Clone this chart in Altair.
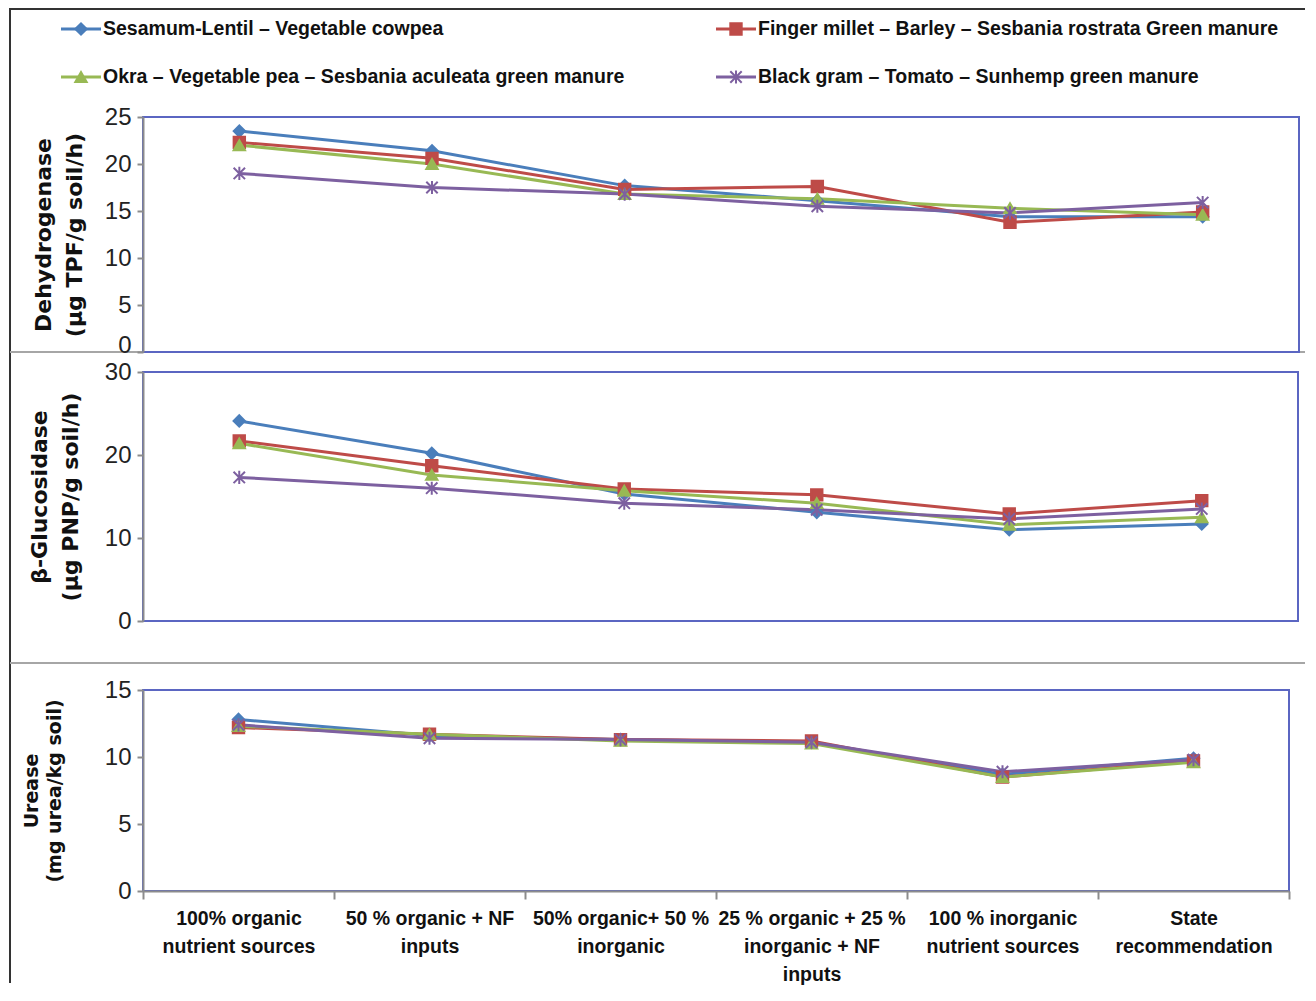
import altair as alt
import pandas as pd

categories = [
    "100% organic\nnutrient sources",
    "50 % organic + NF\ninputs",
    "50% organic+ 50 %\ninorganic",
    "25 % organic + 25 %\ninorganic + NF\ninputs",
    "100 % inorganic\nnutrient sources",
    "State\nrecommendation",
]
series = [
    "Sesamum-Lentil – Vegetable cowpea",
    "Finger millet – Barley – Sesbania rostrata Green manure",
    "Okra – Vegetable pea – Sesbania aculeata green manure",
    "Black gram – Tomato – Sunhemp green manure",
]
colors = ["#4A7EBB", "#BE4B48", "#98B954", "#7D60A0"]
shapes = ["diamond", "square", "triangle-up", "M-1,-1L1,1M-1,1L1,-1M0,-1.15L0,1.15"]

# Dehydrogenase (µg TPF/g soil/h)
dh_sesamum = [23.5, 21.4, 17.7, 16.1, 14.4, 14.4]
dh_finger = [22.3, 20.6, 17.3, 17.6, 13.8, 14.9]
dh_okra = [22.0, 20.0, 16.8, 16.3, 15.3, 14.6]
dh_blackgram = [19.0, 17.5, 16.8, 15.5, 14.8, 15.9]

# beta-Glucosidase (µg PNP/g soil/h)
bg_sesamum = [24.1, 20.2, 15.3, 13.1, 11.0, 11.7]
bg_finger = [21.7, 18.7, 15.9, 15.2, 12.9, 14.5]
bg_okra = [21.4, 17.6, 15.7, 14.2, 11.6, 12.5]
bg_blackgram = [17.3, 16.0, 14.2, 13.4, 12.3, 13.5]

# Urease (mg urea/kg soil)
ur_sesamum = [12.8, 11.6, 11.3, 11.1, 8.7, 9.9]
ur_finger = [12.2, 11.7, 11.3, 11.2, 8.5, 9.7]
ur_okra = [12.3, 11.7, 11.2, 11.0, 8.5, 9.6]
ur_blackgram = [12.4, 11.4, 11.3, 11.1, 8.9, 9.8]

NARROW = "Liberation Sans, Arial, sans-serif"
WIDE = "DejaVu Sans, Verdana, sans-serif"
BLUE_BORDER = "#5B66C2"
GRAY = "#8C8C8C"


def long_df(lists):
    rows = []
    for s, vals in zip(series, lists):
        for ci, (c, v) in enumerate(zip(categories, vals)):
            rows.append({"series": s, "cat": c, "ci": ci, "val": v})
    return pd.DataFrame(rows)


color_scale = alt.Scale(domain=series, range=colors)
shape_scale = alt.Scale(domain=series, range=shapes)


def panel(lists, dmax, step, title, h, w, tfs, tweight, tlh, tpad, show_x, zero_base="middle"):
    df = long_df(lists)
    if show_x:
        xaxis = alt.Axis(
            title=None, labelAngle=0, labelExpr="split(datum.label, '\\n')",
            labelFont=NARROW, labelFontSize=19.5, labelFontWeight="bold",
            labelLineHeight=28, labelPadding=10, labelColor="#111",
            labelLimit=300, labelOverlap=False, tickBand="extent",
            tickSize=8, tickWidth=2, tickColor=GRAY, domainColor=GRAY,
            domainWidth=2, grid=False,
        )
    else:
        xaxis = None
    x = alt.X("cat:N", sort=categories,
              scale=alt.Scale(type="band", paddingInner=0, paddingOuter=0),
              axis=xaxis)
    y = alt.Y("val:Q", scale=alt.Scale(domain=[0, dmax], nice=False, zero=True),
              axis=alt.Axis(
                  values=list(range(0, dmax + 1, step)), title=title,
                  titleFont=WIDE, titleFontSize=tfs, titleFontWeight=tweight,
                  titleLineHeight=tlh, titlePadding=tpad, titleColor="#111",
                  labelFont=NARROW, labelFontSize=24, labelColor="#222",
                  labelBaseline={"condition": {"test": "datum.value === 0", "value": zero_base},
                                 "value": "middle"},
                  labelPadding=6, tickSize=6, tickWidth=2, tickColor=GRAY,
                  domainColor=GRAY, domainWidth=2, grid=False,
              ))
    base = alt.Chart(df)
    lines = base.mark_line(strokeWidth=3).encode(
        x=x, y=y,
        color=alt.Color("series:N", scale=color_scale, legend=None),
        order=alt.Order("ci:Q"),
    )
    pts = base.mark_point(filled=True, size=130, opacity=1, strokeWidth=2).encode(
        x=x, y=y,
        shape=alt.Shape("series:N", scale=shape_scale, legend=None),
        fill=alt.Fill("series:N", scale=color_scale, legend=None),
        stroke=alt.Stroke("series:N", scale=color_scale, legend=None),
    )
    return alt.layer(lines, pts).properties(
        width=w, height=h,
        view=alt.ViewBackground(stroke=BLUE_BORDER, strokeWidth=2),
    )


# ---- legend / frame chart ----
leg_df = pd.DataFrame({
    "series": series,
    "col": [i % 2 for i in range(len(series))],
    "row": [i // 2 for i in range(len(series))],
})
legx = alt.X("col:Q", scale=alt.Scale(domain=[0, 1], range=[-62, 593]), axis=None)
legy = alt.Y("row:Q", scale=alt.Scale(domain=[0, 1], range=[21, 69]), axis=None)
leg_base = alt.Chart(leg_df)
leg_tick = leg_base.mark_tick(orient="horizontal", size=40, thickness=3, opacity=1).encode(
    x=legx, y=legy, color=alt.Color("series:N", scale=color_scale, legend=None))
leg_pts = leg_base.mark_point(filled=True, size=130, opacity=1, strokeWidth=2).encode(
    x=legx, y=legy,
    shape=alt.Shape("series:N", scale=shape_scale, legend=None),
    fill=alt.Fill("series:N", scale=color_scale, legend=None),
    stroke=alt.Stroke("series:N", scale=color_scale, legend=None),
)
leg_text = leg_base.mark_text(align="left", baseline="middle", dx=22, font=NARROW,
                              fontSize=19.5, fontWeight="bold", color="#111").encode(
    x=legx, y=legy, text="series:N")

deco = alt.Chart(pd.DataFrame({"k": [0]}))
top_border = deco.mark_rule(color="#333333", strokeWidth=2).encode(
    x=alt.value(-134), x2=alt.value(1162), y=alt.value(1))
left_border = deco.mark_rule(color="#333333", strokeWidth=2).encode(
    x=alt.value(-133), y=alt.value(1), y2=alt.value(975))
sep1 = deco.mark_rule(color="#A6A6A6", strokeWidth=2).encode(
    x=alt.value(-133), x2=alt.value(1162), y=alt.value(344))
sep2 = deco.mark_rule(color="#A6A6A6", strokeWidth=2).encode(
    x=alt.value(-133), x2=alt.value(1162), y=alt.value(655))

legend_chart = alt.layer(top_border, left_border, sep1, sep2, leg_tick, leg_pts, leg_text).properties(
    width=1156, height=89)

p1 = panel([dh_sesamum, dh_finger, dh_okra, dh_blackgram], 25, 5,
           ["Dehydrogenase", "(µg TPF/g soil/h)"], 235, 1156, 22, "bold", 31, 18, False,
           zero_base="alphabetic")
p2 = panel([bg_sesamum, bg_finger, bg_okra, bg_blackgram], 30, 10,
           ["β-Glucosidase", "(µg PNP/g soil/h)"], 249, 1155, 22, "bold", 31, 22, False)
p3 = panel([ur_sesamum, ur_finger, ur_okra, ur_blackgram], 15, 5,
           ["Urease", "(mg urea/kg soil)"], 201, 1146, 19, "bold", 23, 40, True)

spacer = alt.Chart(pd.DataFrame({"k": [0]})).mark_point(opacity=0).encode(
    x=alt.value(0), y=alt.value(0)).properties(width=1146, height=29)

chart = alt.vconcat(legend_chart, p1, p2, spacer, p3, spacing=20, bounds="flush").resolve_scale(
    x="independent", y="independent"
).properties(padding=0).configure_view(strokeWidth=0)

chart.save("out.html", embed_options={"renderer": "svg", "actions": False})
